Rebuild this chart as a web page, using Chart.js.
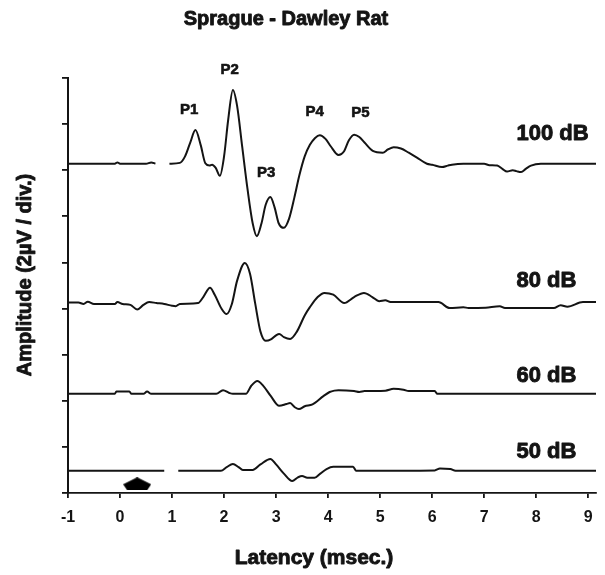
<!DOCTYPE html>
<html><head><meta charset="utf-8">
<script src="https://cdn.jsdelivr.net/npm/chart.js@4.4.0/dist/chart.umd.min.js"></script>
<style>html,body{margin:0;padding:0;background:#fff}#wrap{width:605px;height:575px;position:relative}</style>
</head><body><div id="wrap"><canvas id="c"></canvas></div>
<script>
// ---------- DATA ----------
const chartTitle = 'Sprague - Dawley Rat';
const xTitle = 'Latency (msec.)';
const yTitle = 'Amplitude (2\u00B5V / div.)';
const xTickValues = [-1, 0, 1, 2, 3, 4, 5, 6, 7, 8, 9];
const levels = ['100 dB', '80 dB', '60 dB', '50 dB'];
const levelLabelY = [7.79, 4.6, 2.54, 0.89];
const levelLabelX = 7.62;

// 100 dB trace (latency ms, amplitude in divisions incl. offset)
const t100 = [-1.0,-0.3,-0.1,-0.05,0.0,0.5,0.6,0.68,0.7,0.95,1.15,1.25,1.35,1.45,1.55,1.64,1.72,1.77,1.84,1.92,2.0,2.08,2.17,2.25,2.35,2.45,2.55,2.63,2.72,2.8,2.89,2.97,3.05,3.15,3.25,3.35,3.45,3.55,3.65,3.75,3.84,3.95,4.05,4.2,4.3,4.4,4.5,4.6,4.7,4.86,5.05,5.15,5.26,5.4,5.55,5.7,5.9,6.0,6.19,6.3,6.38,6.6,7.0,7.1,7.25,7.35,7.44,7.55,7.62,7.71,7.8,7.9,8.09,9.15];
const a100 = [7.14,7.14,7.14,7.17,7.14,7.14,7.17,7.14,null,7.14,7.16,7.3,7.6,7.87,7.55,7.15,7.1,7.12,7.05,6.88,7.3,8.1,8.74,8.4,7.5,6.6,5.85,5.57,5.85,6.25,6.42,6.2,5.85,5.75,5.95,6.4,6.9,7.3,7.55,7.7,7.76,7.68,7.52,7.33,7.4,7.65,7.77,7.72,7.6,7.42,7.38,7.45,7.5,7.47,7.38,7.28,7.14,7.12,7.07,7.1,7.12,7.14,7.14,7.11,7.1,7.03,6.97,7.0,6.98,6.96,7.03,7.1,7.14,7.14];

// 80 dB trace
const t80 = [-1.0,-0.8,-0.7,-0.62,-0.5,-0.3,-0.1,-0.05,0.05,0.2,0.33,0.45,0.56,0.7,0.85,1.0,1.07,1.15,1.5,1.6,1.73,1.82,1.95,2.05,2.15,2.25,2.4,2.5,2.6,2.7,2.8,2.9,3.0,3.06,3.15,3.27,3.4,3.55,3.65,3.8,3.93,4.1,4.31,4.5,4.69,4.85,4.98,5.1,5.2,5.4,6.12,6.34,6.6,6.7,7.03,7.3,7.4,8.34,8.47,8.6,8.9,9.15];
const a80 = [4.13,4.13,4.1,4.15,4.1,4.1,4.1,4.14,4.1,4.08,3.98,4.08,4.14,4.12,4.1,4.06,4.05,4.1,4.12,4.25,4.45,4.3,4.0,3.88,4.1,4.6,4.99,4.75,4.1,3.5,3.3,3.33,3.42,3.45,3.38,3.34,3.5,3.85,4.03,4.25,4.34,4.3,4.12,4.25,4.34,4.25,4.16,4.18,4.14,4.14,4.14,4.01,4.03,4.01,4.02,4.05,4.01,4.01,4.07,4.04,4.14,4.14];

// 60 dB trace
const t60 = [-1.0,-0.1,-0.07,0.18,0.22,0.45,0.52,0.6,1.85,1.98,2.1,2.17,2.42,2.52,2.64,2.75,2.9,3.06,3.2,3.27,3.36,3.44,3.55,3.7,3.91,4.03,4.12,4.2,4.5,4.6,4.7,5.1,5.26,5.45,5.55,6.05,6.1,9.15];
const a60 = [2.15,2.15,2.2,2.2,2.15,2.15,2.2,2.15,2.15,2.23,2.17,2.15,2.15,2.32,2.43,2.33,2.1,1.89,1.93,1.95,1.86,1.82,1.88,1.92,2.1,2.19,2.22,2.23,2.21,2.19,2.21,2.22,2.26,2.24,2.21,2.21,2.15,2.15];

// 50 dB trace
const t50 = [-1.0,0.85,0.9,1.12,1.94,2.05,2.17,2.28,2.36,2.55,2.7,2.89,3.0,3.15,3.31,3.42,3.5,3.6,3.74,3.85,3.97,4.1,4.2,4.48,4.54,6.05,6.15,6.35,6.45,9.15];
const a50 = [0.48,0.48,null,0.48,0.48,0.56,0.63,0.56,0.5,0.5,0.62,0.74,0.62,0.42,0.26,0.34,0.37,0.33,0.33,0.42,0.52,0.57,0.57,0.57,0.48,0.49,0.53,0.52,0.48,0.48];

// peak labels
const peakNames = ['P1', 'P2', 'P3', 'P4', 'P5'];
const peakX = [1.33, 2.11, 2.81, 3.74, 4.62];
const peakY = [8.31, 9.18, 6.94, 8.26, 8.24];

// stimulus onset marker
const markerX = [0.33];
const markerY = [0.2];

// ---------- CHART ----------
const FONT = '"Liberation Sans", Arial, Helvetica, sans-serif';
const INK = '#141414';

function pts(t, a) { return t.map((x, i) => ({ x: x, y: a[i] })); }

const arrowImg = document.createElement('canvas');
arrowImg.width = 28; arrowImg.height = 13;
(function () {
  const g = arrowImg.getContext('2d');
  g.beginPath();
  g.moveTo(14, 0); g.lineTo(28, 7); g.lineTo(24, 13); g.lineTo(4, 13); g.lineTo(0, 7);
  g.closePath(); g.fillStyle = '#000'; g.fill();
})();

function traceDs(label, t, a) {
  return {
    label: label, data: pts(t, a), borderColor: INK, borderWidth: 2,
    pointRadius: 0, fill: false, spanGaps: false,
    cubicInterpolationMode: 'monotone'
  };
}

function boldText(ctx, s, x, y) {
  ctx.fillText(s, x, y);
  ctx.strokeText(s, x, y);
}

const annotations = {
  id: 'annotations',
  afterDraw(chart) {
    const { ctx } = chart;
    const xs = chart.scales.x, ys = chart.scales.y;
    ctx.save();
    ctx.fillStyle = INK;
    ctx.strokeStyle = INK;
    ctx.lineWidth = 0.6;
    ctx.lineJoin = 'round';
    ctx.textBaseline = 'middle';
    ctx.textAlign = 'center';
    ctx.font = 'bold 15px ' + FONT;
    peakNames.forEach((n, i) => boldText(ctx, n, xs.getPixelForValue(peakX[i]), ys.getPixelForValue(peakY[i])));
    ctx.textAlign = 'left';
    ctx.font = 'bold 22px ' + FONT;
    ctx.lineWidth = 0.9;
    levels.forEach((l, i) => boldText(ctx, l, xs.getPixelForValue(levelLabelX), ys.getPixelForValue(levelLabelY[i])));
    ctx.textAlign = 'center';
    ctx.font = 'bold 20px ' + FONT;
    boldText(ctx, chartTitle, 286, 19);
    ctx.font = 'bold 21px ' + FONT;
    boldText(ctx, xTitle, 314, 558);
    ctx.translate(25, 275);
    ctx.rotate(-Math.PI / 2);
    ctx.font = 'bold 20px ' + FONT;
    boldText(ctx, yTitle, 0, 0);
    ctx.restore();
  }
};

new Chart(document.getElementById('c'), {
  type: 'line',
  data: {
    datasets: [
      traceDs(levels[0], t100, a100),
      traceDs(levels[1], t80, a80),
      traceDs(levels[2], t60, a60),
      traceDs(levels[3], t50, a50),
      {
        label: 'stimulus', data: pts(markerX, markerY), showLine: false,
        pointStyle: arrowImg, pointRadius: 8, borderColor: '#000', backgroundColor: '#000'
      }
    ]
  },
  options: {
    responsive: true, maintainAspectRatio: false, animation: false,
    layout: { padding: { top: 78, right: 2, left: 0, bottom: 0 } },
    plugins: { legend: { display: false }, tooltip: { enabled: false }, title: { display: false } },
    scales: {
      x: {
        type: 'linear', min: -1, max: 9.15,
        afterFit(s) { s.height = 82; },
        afterBuildTicks(s) { s.ticks = xTickValues.map(v => ({ value: v })); },
        border: { display: true, color: INK, width: 1.8 },
        grid: { display: true, drawOnChartArea: false, drawTicks: true, tickLength: 5, color: INK, lineWidth: 1.8 },
        ticks: { color: INK, padding: 10, maxRotation: 0, autoSkip: false, font: { family: FONT, size: 16, weight: 'bold' },
                 callback: v => String(v) }
      },
      y: {
        type: 'linear', min: 0, max: 9,
        afterFit(s) { s.width = 68; },
        border: { display: true, color: INK, width: 2 },
        grid: { display: true, drawOnChartArea: false, drawTicks: true, tickLength: 6, color: INK, lineWidth: 1.8 },
        ticks: { display: false, stepSize: 1 }
      }
    }
  },
  plugins: [annotations]
});
</script>
</body></html>
